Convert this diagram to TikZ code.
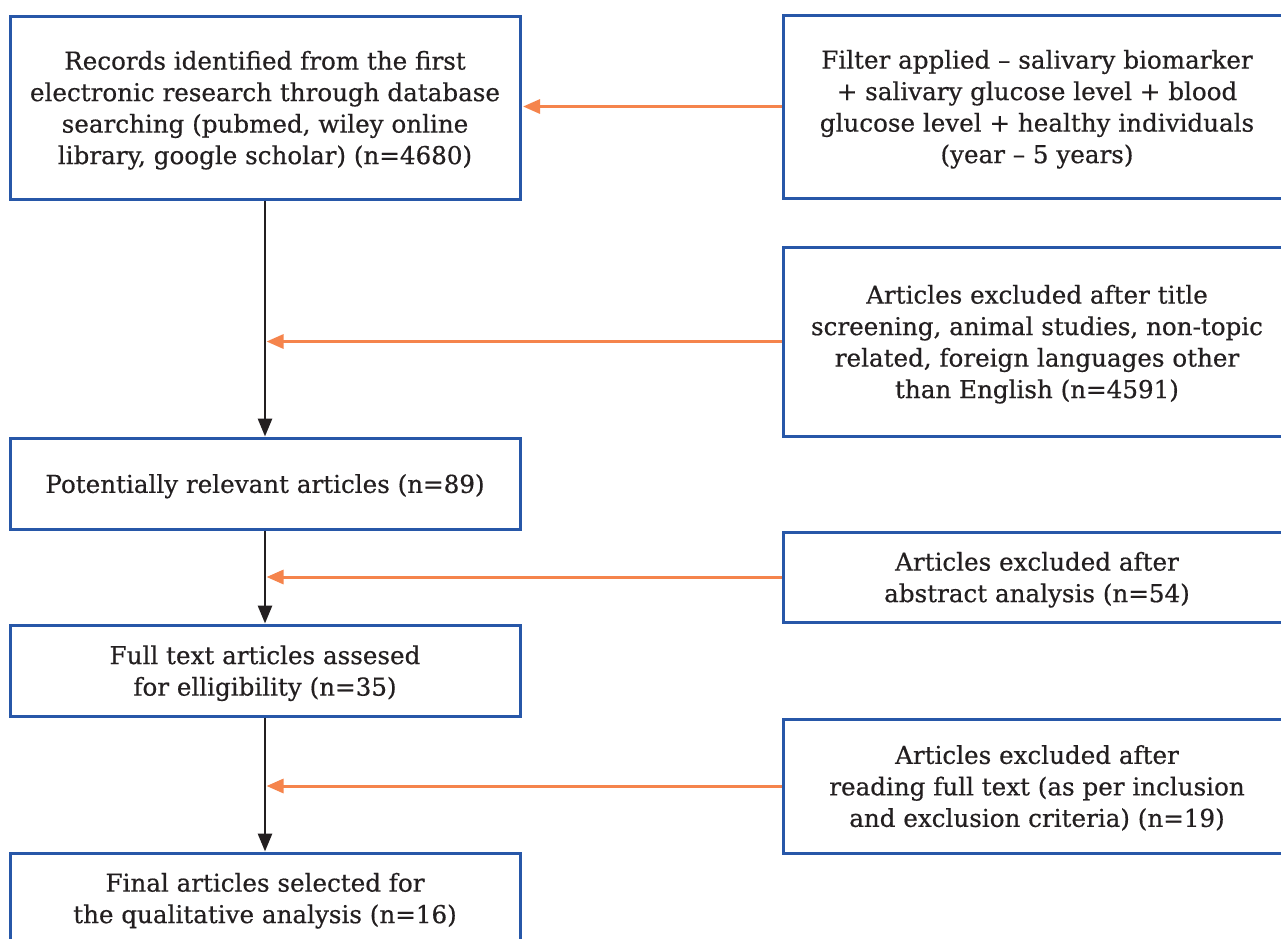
\documentclass[tikz,border=0pt]{standalone}
\usepackage{fontspec}
\setmainfont{DejaVu Serif}[FakeBold=0.5]
\usetikzlibrary{arrows.meta}
\definecolor{boxblue}{HTML}{2757A8}
\definecolor{arrorange}{HTML}{F5844C}
\definecolor{txtblack}{HTML}{231F20}
\tikzset{
  stagebox/.style={draw=boxblue, line width=3pt, rectangle, inner sep=0pt,
    align=center, text=txtblack, text depth=0pt, font=\fontsize{24.6}{31.5}\selectfont},
  flowarrow/.style={draw=txtblack, line width=2.8pt, -{Triangle[length=18pt,width=14pt]}},
  feedarrow/.style={draw=arrorange, line width=3pt, -{Triangle[length=17pt,width=14pt]}, shorten >=1.5pt}
}
\begin{document}
\begin{tikzpicture}[x=1pt,y=-1pt]
\useasboundingbox (0,0) rectangle (1281,938);
\clip (0,0) rectangle (1281,938);
\fill[white] (0,0) rectangle (1281,938);

\node[stagebox, minimum width=510pt, minimum height=183pt] (rec) at (265,107.5)
  {Records identified from the first\\electronic research through database\\searching (pubmed, wiley online\\library, google scholar) (n=4680)};
\node[stagebox, minimum width=508pt, minimum height=183pt] (filt) at (1037,106.5)
  {Filter applied – salivary biomarker\\+ salivary glucose level + blood\\glucose level + healthy individuals\\(year – 5 years)};
\node[stagebox, minimum width=508pt, minimum height=189pt] (exa) at (1037,341.5)
  {Articles excluded after title\\screening, animal studies, non-topic\\related, foreign languages other\\than English (n=4591)};
\node[stagebox, minimum width=510pt, minimum height=91pt] (pot) at (265,483.5)
  {Potentially relevant articles (n=89)};
\node[stagebox, minimum width=508pt, minimum height=90pt] (exb) at (1037,577)
  {Articles excluded after\\abstract analysis (n=54)};
\node[stagebox, minimum width=510pt, minimum height=91pt] (full) at (265,670.5)
  {Full text articles assesed\\for elligibility (n=35)};
\node[stagebox, minimum width=508pt, minimum height=134pt] (exc) at (1037,786)
  {Articles excluded after\\reading full text (as per inclusion\\and exclusion criteria) (n=19)};
\node[stagebox, minimum width=510pt, minimum height=90pt] (fin) at (265,898)
  {Final articles selected for\\the qualitative analysis (n=16)};

\draw[flowarrow] (rec.south) -- (pot.north);
\draw[flowarrow] (pot.south) -- (full.north);
\draw[flowarrow] (full.south) -- (fin.north);

\draw[feedarrow] (filt.west) -- (filt.west -| rec.east);
\draw[feedarrow] (exa.west) -- (exa.west -| rec.south);
\draw[feedarrow] (exb.west) -- (exb.west -| pot.south);
\draw[feedarrow] (exc.west) -- (exc.west -| full.south);
\end{tikzpicture}
\end{document}
